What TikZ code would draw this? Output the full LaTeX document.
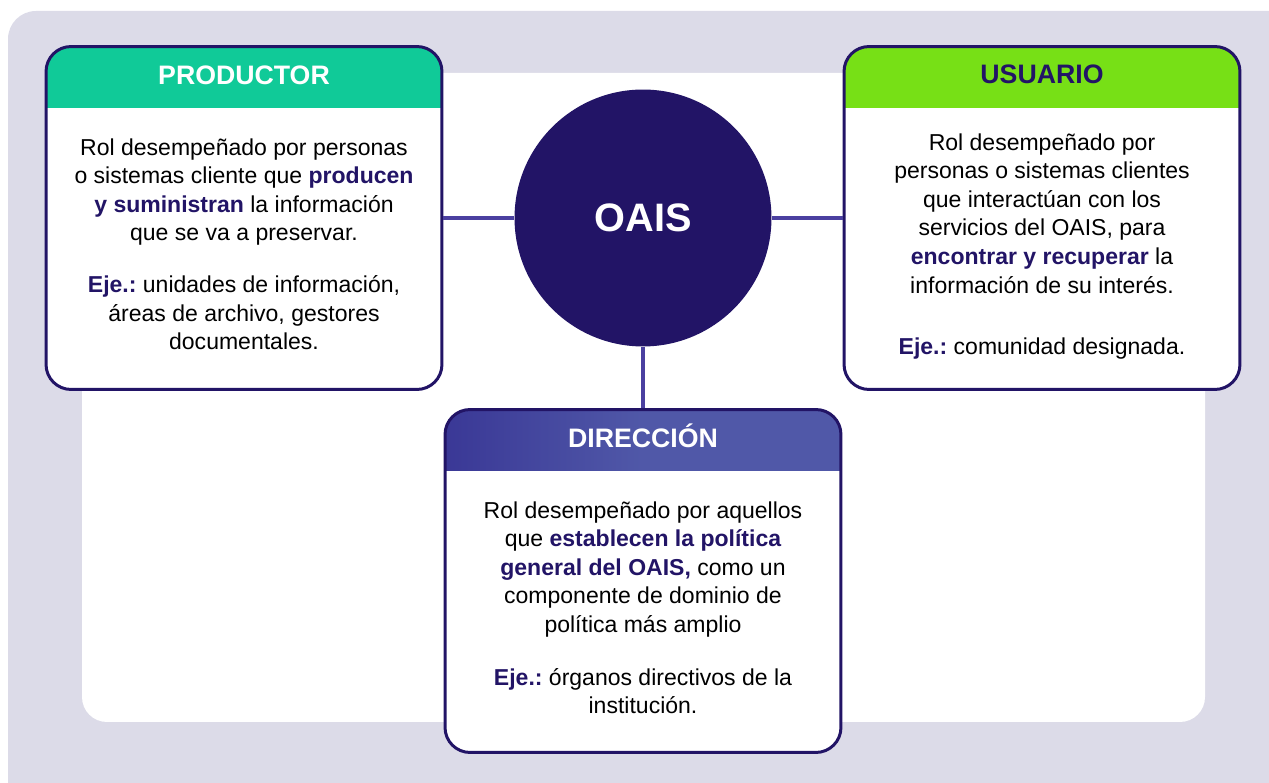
\documentclass[tikz,border=0pt]{standalone}
\usepackage{fontspec}
\setmainfont{Liberation Sans}
\usepackage{xcolor}
\usetikzlibrary{positioning,calc}

\definecolor{navy}{HTML}{221466}
\definecolor{lineblue}{HTML}{4B40A0}
\definecolor{fondo}{HTML}{DCDBE8}
\definecolor{prodgreen}{HTML}{10CA98}
\definecolor{usugreen}{HTML}{77E016}
\definecolor{dirdark}{HTML}{3A3896}
\definecolor{dirlight}{HTML}{5058A8}

\newcommand{\resalta}[1]{\textbf{\color{navy}#1}}

\begin{document}
\begin{tikzpicture}[
  x=0.02cm, y=-0.02cm,
  rol/.style={rectangle, rounded corners=0.5cm, minimum width=7.92cm, minimum height=6.86cm,
              fill=white, inner sep=0, outer sep=0.85pt,
              path picture={\path[sharp corners, #1] (path picture bounding box.north west)
                rectangle ([yshift=-1.22cm]path picture bounding box.north east);},
              postaction={draw=navy, line width=1.7pt}},
  titulo/.style={font=\fontsize{15.2}{18}\selectfont\bfseries, inner sep=0, anchor=base},
  texto/.style={font=\fontsize{13.1}{16.3}\selectfont\frenchspacing, align=center, inner sep=0, anchor=north},
  link/.style={draw=lineblue, line width=2.3pt}
]
\useasboundingbox (0,0) rectangle (1269,783);

% Background
\begin{scope}
  \clip (0,0) rectangle (1269,783);
  \fill[fondo, rounded corners=0.56cm] (8,11) rectangle (1320,830);
\end{scope}
\fill[white, rounded corners=0.5cm] (82,73) rectangle (1205,722);

% Boxes
\node[rol={fill=prodgreen}] (prod) at (244,218) {};
\node[rol={fill=usugreen}] (usu) at (1042,218) {};
\node[rol={left color=dirdark, right color=dirlight, middle color=dirlight}] (dir) at (643,581) {};
\node[circle, fill=navy, minimum size=5.14cm, inner sep=0, text=white,
      font=\fontsize{22.6}{27}\selectfont\bfseries] (oais) at (643,218) {OAIS};

% Connectors
\draw[link] (prod) -- (oais);
\draw[link] (oais) -- (usu);
\draw[link] (oais) -- (dir);

% Titles
\node[titulo, text=white] (prodtit) at ([yshift=-0.79cm]prod.north) {PRODUCTOR};
\node[titulo, text=navy] (usutit) at ([yshift=-0.77cm]usu.north) {USUARIO};
\node[titulo, text=white] (dirtit) at ([yshift=-0.79cm]dir.north) {DIRECCIÓN};

% Texts
\node[texto] (prodtxt) at (244,138) {Rol desempeñado por personas\\
  o sistemas cliente que \resalta{producen}\\
  \resalta{y suministran} la información\\
  que se va a preservar.\\[13pt]
  \resalta{Eje.:} unidades de información,\\
  áreas de archivo, gestores\\
  documentales.};
\node[texto] (usutxt) at (1042,133) {Rol desempeñado por\\
  personas o sistemas clientes\\
  que interactúan con los\\
  servicios del OAIS, para\\
  \resalta{encontrar y recuperar} la\\
  información de su interés.\\[18.8pt]
  \resalta{Eje.:} comunidad designada.};
\node[texto] (dirtxt) at (643,501) {Rol desempeñado por aquellos\\
  que \resalta{establecen la política}\\
  \resalta{general del OAIS,} como un\\
  componente de dominio de\\
  política más amplio\\[13.7pt]
  \resalta{Eje.:} órganos directivos de la\\
  institución.};
\end{tikzpicture}
\end{document}
